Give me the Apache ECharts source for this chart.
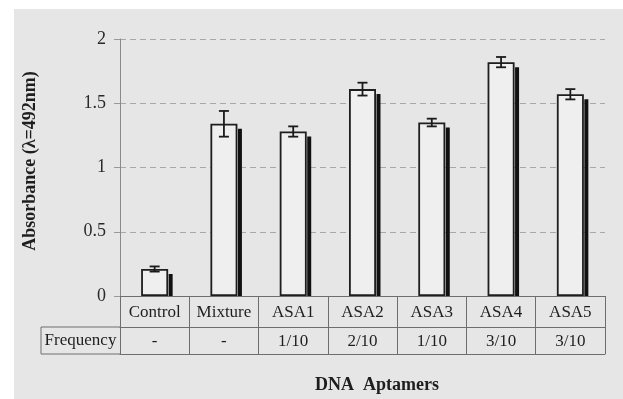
<!DOCTYPE html>
<html><head><meta charset="utf-8">
<script src="https://cdn.jsdelivr.net/npm/echarts@6/dist/echarts.min.js"></script>
<style>html,body{margin:0;padding:0;background:#fff}#c{width:623px;height:399px}</style>
</head><body><div id="c"></div>
<script>
var categories = ['Control','Mixture','ASA1','ASA2','ASA3','ASA4','ASA5'];
var frequency = ['-','-','1/10','2/10','1/10','3/10','3/10'];
var absorbance = [0.21,1.34,1.28,1.61,1.35,1.82,1.57];
var errors = [0.02,0.10,0.04,0.05,0.03,0.04,0.04];
var yTicks = [0,0.5,1,1.5,2];

var FONT = '"Liberation Serif","Times New Roman",serif';
var LINE = '#6e6e6e';
var chart = echarts.init(document.getElementById('c'), null, {renderer:'canvas'});

var gridL = 120, gridT = 39, gridR = 18, gridB = 103;
var rowH = 31, row2H = 27;

var option = {
  backgroundColor: '#ffffff',
  animation: false,
  grid: {left: gridL, top: gridT, right: gridR, bottom: gridB, containLabel:false},
  graphic: [],
  xAxis: [
    {type:'category', data: categories, position:'bottom',
     axisLine:{show:true, lineStyle:{color:LINE, width:1}},
     axisTick:{show:true, interval:0, length: rowH + row2H, lineStyle:{color:LINE, width:1}},
     axisLabel:{interval:0, margin:8, fontFamily:FONT, fontSize:17, color:'#1e1e1e'}},
    {type:'category', data: frequency, position:'bottom', offset: rowH,
     axisLine:{show:true, lineStyle:{color:LINE, width:1}},
     axisTick:{show:false},
     axisLabel:{interval:0, margin:6, fontFamily:FONT, fontSize:17, color:'#1e1e1e'}},
    {type:'category', data: frequency, position:'bottom', offset: rowH + row2H,
     axisLine:{show:true, lineStyle:{color:LINE, width:1}},
     axisTick:{show:false}, axisLabel:{show:false}}
  ],
  yAxis: {type:'value', min: yTicks[0], max: yTicks[yTicks.length-1], interval: 0.5,
    axisLine:{show:true, lineStyle:{color:'#8a8a8a', width:1}},
    axisTick:{show:true, length:6, lineStyle:{color:'#9a9a9a'}},
    axisLabel:{margin:14, fontFamily:FONT, fontSize:18, color:'#2a2a2a',
      formatter:function(v){return String(v);}},
    splitLine:{show:true, lineStyle:{color:'#a8a8a8', type:[6,4], width:1}}
  },
  title: {text:'DNA  Aptamers', left: 372, top: 371, textAlign:'center',
    textStyle:{fontFamily:FONT, fontSize:18, fontWeight:'bold', color:'#1e1e1e'}},
  series: [
    {type:'custom', name:'shadow', z:1,
     renderItem:function(params, api){
       var x = api.value(0), v = api.value(1);
       var top = api.coord([x, v]);
       var base = api.coord([x, 0]);
       return {type:'rect', shape:{x: top[0]+14, y: top[1]+5, width:4, height: base[1]-top[1]-5},
               style:{fill:'#111'}};
     },
     data: absorbance.map(function(v,i){return [i,v];})},
    {type:'bar', name:'bar', z:2, data: absorbance, barWidth: 27,
     itemStyle:{color:'#efefef', borderColor:'#1e1e1e', borderWidth:1.8}},
    {type:'custom', name:'err', z:3,
     renderItem:function(params, api){
       var x = api.value(0), v = api.value(1), e = api.value(2);
       var hi = api.coord([x, v+e]), lo = api.coord([x, v-e]);
       var w = 5;
       var st = {stroke:'#1a1a1a', lineWidth:1.8};
       return {type:'group', children:[
         {type:'line', shape:{x1:hi[0], y1:hi[1], x2:lo[0], y2:lo[1]}, style:st},
         {type:'line', shape:{x1:hi[0]-w, y1:hi[1], x2:hi[0]+w, y2:hi[1]}, style:st},
         {type:'line', shape:{x1:lo[0]-w, y1:lo[1], x2:lo[0]+w, y2:lo[1]}, style:st}
       ]};
     },
     data: absorbance.map(function(v,i){return [i,v,errors[i]];})}
  ]
};
chart.setOption(option);

var p0 = chart.convertToPixel({xAxisIndex:0, yAxisIndex:0}, [0, 0]);
var yBase = p0[1];
var xLeft = gridL;
chart.setOption({graphic:[
  {type:'rect', z:-10, silent:true, shape:{x:14, y:9, width:623-14, height:399-9}, style:{fill:'#e6e6e6'}},
  {type:'polyline', z:10, silent:true,
   shape:{points:[[xLeft, yBase+rowH],[41, yBase+rowH],[41, yBase+rowH+row2H],[xLeft, yBase+rowH+row2H]]},
   style:{stroke:LINE, lineWidth:1, fill:null}},
  {type:'text', z:10, silent:true, x:(41+xLeft)/2, y: yBase+rowH+row2H/2,
   style:{text:'Frequency', fontFamily:FONT, fontSize:17, fill:'#1e1e1e', align:'center', verticalAlign:'middle'}},
  {type:'text', z:10, silent:true, x:30, y:161, rotation:Math.PI/2,
   style:{text:'Absorbance (λ=492nm)', fontFamily:FONT, fontSize:18, fontWeight:'bold', fill:'#1e1e1e', align:'center', verticalAlign:'middle'}}
]});
</script></body></html>
